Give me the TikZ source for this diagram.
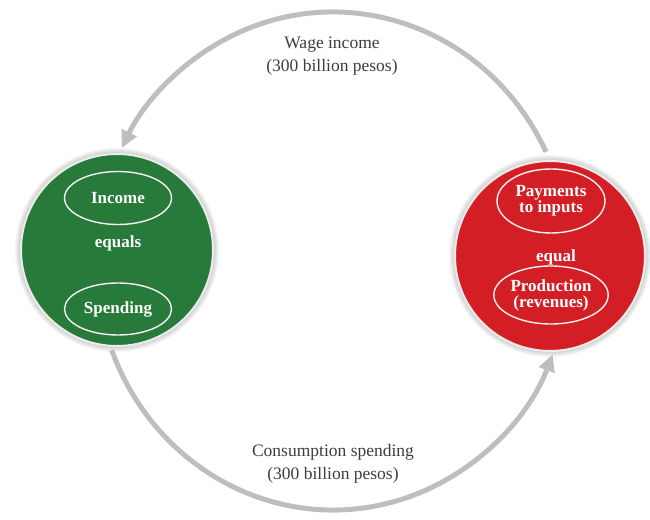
\documentclass[tikz,border=0pt]{standalone}
\usepackage{fontspec}
\setmainfont{Liberation Serif}
\usetikzlibrary{positioning, arrows.meta, calc, shapes.geometric}
\definecolor{hhgreen}{RGB}{40,122,58}
\definecolor{firmred}{RGB}{212,30,38}
\definecolor{flowgray}{RGB}{190,190,190}
\definecolor{labelgray}{RGB}{60,60,60}
\begin{document}
\begin{tikzpicture}[x=1pt, y=1pt]
  \def\CX{333}
  \def\CY{258}
  \def\AX{237}
  \def\BY{249}
  \tikzset{
    sector/.style={circle, minimum size=192pt, inner sep=0pt, draw=white!85!gray, line width=2pt},
    glow/.style={fill=black, opacity=0.035},
    inner/.style={ellipse, draw=white!90!gray, line width=1.4pt, inner sep=0pt, text=white,
      font=\fontsize{17}{16}\selectfont\bfseries, align=center},
    joint/.style={text=white, font=\fontsize{17}{18}\selectfont\bfseries},
    flow/.style={draw=flowgray, line width=5pt, -{Triangle[length=17pt, width=16pt]}},
    flowlabel/.style={text=labelgray, font=\fontsize{17.5}{23}\selectfont, align=center},
  }
  \useasboundingbox (0,0) rectangle (650,519);

  %% ===== Soft shadows behind the two sectors =====
  \foreach \g in {1,...,6} {
    \fill[glow] (117,269) circle (96+\g);
    \fill[glow] (550,263) circle (95+\g);
  }

  %% ===== Households (green) =====
  \node[sector, fill=hhgreen] (hh) at (117,269) {};
  \node[inner, minimum width=107pt, minimum height=53pt] (income) at (118,321) {Income};
  \node[joint] (equals) at (118,276) {equals};
  \node[inner, minimum width=107pt, minimum height=52pt] (spending) at (118,210) {Spending};

  %% ===== Firms (red) =====
  \node[sector, fill=firmred, minimum size=190pt] (firms) at (550,263) {};
  \node[inner, minimum width=108pt, minimum height=64pt] (payments) at (551,318) {Payments\\to inputs};
  \node[joint] (equal) at (556,262) {equal};
  \node[inner, minimum width=108pt, minimum height=58pt] (production) at (551,224) {Production\\(revenues)};

  %% ===== Circular flow =====
  \coordinate (ctr) at (\CX,\CY);
  % wage income runs from firms over the top to households
  \draw[flow] ($(ctr)+(26:\AX pt and \BY pt)$)
    arc[start angle=26, end angle=153, x radius=\AX, y radius=\BY];
  % consumption spending runs from households under the bottom to firms
  \draw[flow] ($(ctr)+(201:\AX pt and \BY pt)$)
    arc[start angle=201, end angle=338, x radius=\AX, y radius=\BY];

  \node[flowlabel] (wage) at (332,463) {Wage income\\(300 billion pesos)};
  \node[flowlabel] (consumption) at (333,55) {Consumption spending\\(300 billion pesos)};
\end{tikzpicture}
\end{document}
